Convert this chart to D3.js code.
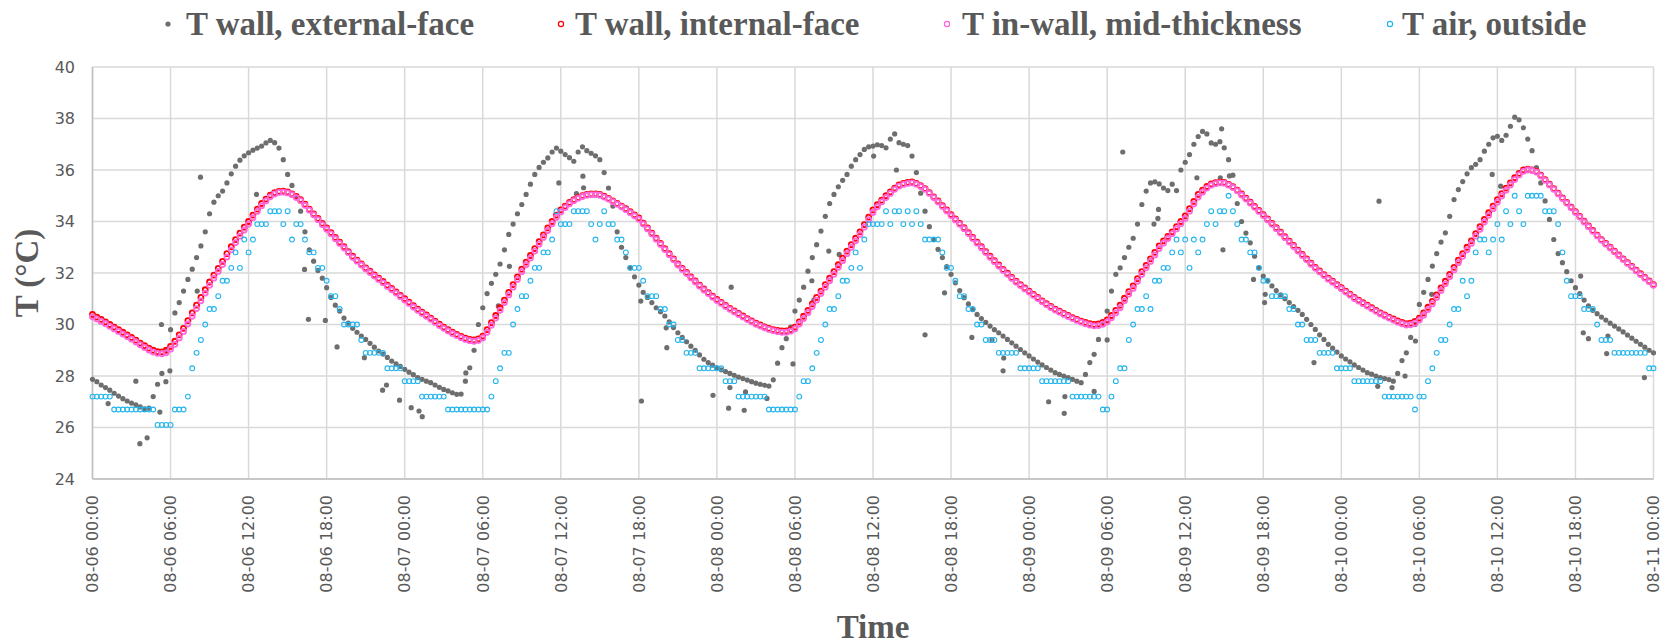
<!DOCTYPE html>
<html><head><meta charset="utf-8">
<script src="https://cdn.jsdelivr.net/npm/d3@7"></script>
<style>html,body{margin:0;padding:0;background:#fff;} svg{display:block;}</style>
</head><body><svg id="chart" width="1670" height="644"></svg>
<script>
// ---------- DATA ----------
const seriesNames = ["T wall, external-face", "T wall, internal-face", "T in-wall, mid-thickness", "T air, outside"];
const startTime = new Date(2020, 7, 6, 0, 0);
const endTime = new Date(2020, 7, 11, 0, 0);
const stepMinutes = 20; // sampling interval of the arrays below
const yTicks = [24, 26, 28, 30, 32, 34, 36, 38, 40];

const tExternal = [
27.87,27.78,27.65, 27.55,27.45,27.33, 27.22,27.12,27.03, 26.95,26.88,26.8, 26.72,26.75,27.2, 27.68,28.1,29.0,
29.8,30.45,30.85, 31.3,31.75,32.15, 32.6,33.05,33.6, 34.3,34.75,35.0, 35.18,35.5,35.85, 36.15,36.38,36.55,
36.67,36.77,36.85, 36.93,37.05,37.15, 37.06,36.85,36.4, 35.83,35.4,34.95, 34.4,33.6,32.9, 32.46,32.1,31.8,
31.43,31.05,30.75, 30.52,30.25,30.05, 29.85,29.7,29.55, 29.42,29.27,29.12, 28.97,28.85,28.72, 28.58,28.47,28.37,
28.26,28.15,28.05, 27.94,27.87,27.8, 27.74,27.65,27.56, 27.48,27.42,27.35, 27.29,27.3,27.8, 28.32,29.0,30.0,
30.65,31.2,31.6, 31.95,32.35,32.9, 33.5,33.9,34.3, 34.66,35.05,35.45, 35.83,36.1,36.3, 36.47,36.7,36.85,
36.73,36.6,36.48, 36.34,36.7,36.9, 36.75,36.65,36.55, 36.4,35.9,35.3, 34.6,33.6,33.0, 32.6,32.2,31.85,
31.53,31.25,31.05, 30.85,30.65,30.5, 30.33,30.1,29.88, 29.68,29.5,29.33, 29.16,29.0,28.82, 28.65,28.52,28.42,
28.32,28.24,28.17, 28.1,28.03,27.96, 27.9,27.84,27.78, 27.72,27.68,27.64, 27.61,27.85,28.5, 29.1,29.45,29.9,
30.52,30.95,31.45, 32.07,32.6,33.1, 33.63,34.2,34.7, 35.05,35.35,35.6, 35.83,36.15,36.4, 36.6,36.8,36.9,
36.93,36.98,36.95, 36.86,37.2,37.4, 37.06,37.0,36.95, 36.54,35.9,35.1, 34.4,33.8,33.3, 32.92,32.6,32.25,
31.95,31.62,31.32, 31.04,30.8,30.58, 30.39,30.23,30.08, 29.94,29.8,29.68, 29.55,29.42,29.29, 29.16,29.03,28.9,
28.78,28.66,28.54, 28.43,28.33,28.23, 28.13,28.06,28.0, 27.94,27.87,27.8, 27.74,28.06,28.52, 28.84,29.42,30.07,
30.52,31.3,31.95, 32.2,32.6,33.0, 33.35,33.9,34.66, 35.18,35.5,35.54, 35.46,35.3,35.2, 35.45,35.2,36.0,
36.3,36.6,37.0, 37.3,37.5,37.4, 37.05,37.0,37.1, 36.86,36.4,35.8, 34.7,34.0,33.55, 33.17,32.65,32.2,
31.88,31.7,31.5, 31.32,31.15,31.0, 30.85,30.7,30.55, 30.39,30.2,30.0, 29.81,29.6,29.42, 29.23,29.08,28.93,
28.78,28.66,28.55, 28.43,28.33,28.23, 28.13,28.07,28.0, 27.94,27.9,27.86, 27.8,28.1,28.6, 28.9,29.5,30.0,
30.78,31.25,31.75, 32.27,32.75,33.2, 33.56,34.2,34.85, 35.24,35.55,35.85, 36.09,36.22,36.4, 36.73,37.0,37.25,
37.31,37.15,37.35, 37.7,38.05,37.95, 37.64,37.2,36.75, 36.09,35.5,34.8, 34.08,33.3,32.75, 32.4,32.05,31.7,
31.43,31.2,30.95, 30.72,30.55,30.42, 30.29,30.17,30.05, 29.94,29.83,29.71, 29.59,29.47,29.35, 29.23,29.12,29.0,
28.9];

// scattered readings of the external face that fall off the main trace (time in hours from start)
const extraExternalHours = [1.2,3.33,3.64,4.2,5.18,5.3,5.64,5.95,8.05,8.3,12.6,16.3,16.6,17.9,18.8,20.9,22.3,22.6,23.6,24.5,
25.1,25.35,28.7,31.2,32.05,35.85,37.2,37.7,37.75,42.15,42.2,44.1,44.15,47.7,48.9,49.0,49.1,50.1,50.2,51.85,
53.85,55.3,55.45,56.6,57.4,60.05,61.8,64.0,65.5,67.6,69.15,70.0,70.05,73.5,74.7,74.75,77.0,78.0,79.2,81.6,
81.9,81.95,84.9,86.7,86.8,86.9,87.4,89.25,90.1,90.15,93.9,98.8,98.9,99.9,100.9,101.7,102.95,107.6,108.25,114.4,
114.6,115.0,116.4,116.5,119.3];
const extraExternalValues = [26.93,27.8,25.37,25.6,26.6,30.0,27.78,28.2,31.3,35.72,35.05,32.14,30.2,30.16,29.13,28.71,27.45,27.65,27.06,26.77,
26.64,26.42,28.12,30.72,32.26,35.5,35.08,35.76,35.31,30.91,27.03,29.87,29.1,27.25,26.75,27.55,31.45,26.67,27.38,27.13,
28.47,31.7,30.95,32.85,32.72,36.54,36.0,29.6,31.23,29.5,29.4,28.2,28.7,27.0,26.55,27.2,27.4,29.4,36.7,33.9,
34.12,34.47,35.7,35.7,37.6,32.9,35.77,31.75,30.85,31.17,28.52,27.6,34.79,27.55,28.0,29.36,31.17,35.83,35.37,31.88,
29.68,29.45,28.87,29.55,27.94];

const tInternal = [
30.39,30.29,30.2, 30.1,30.0,29.9, 29.8,29.7,29.6, 29.5,29.39,29.28, 29.18,29.08,29.0, 28.95,28.94,29.0,
29.15,29.35,29.6, 29.85,30.15,30.45, 30.75,31.05,31.35, 31.65,31.92,32.18, 32.45,32.75,33.02, 33.3,33.55,33.78,
34.0,34.25,34.48, 34.7,34.87,35.02, 35.12,35.17,35.18, 35.15,35.07,34.97, 34.85,34.67,34.48, 34.3,34.12,33.93,
33.75,33.57,33.38, 33.2,33.02,32.83, 32.65,32.5,32.35, 32.2,32.07,31.93, 31.8,31.67,31.53, 31.4,31.27,31.13,
31.0,30.87,30.73, 30.6,30.48,30.37, 30.25,30.13,30.01, 29.9,29.8,29.7, 29.62,29.54,29.47, 29.42,29.4,29.44,
29.55,29.8,30.07, 30.35,30.65,30.95, 31.25,31.55,31.85, 32.15,32.42,32.68, 32.95,33.22,33.48, 33.75,34.0,34.25,
34.45,34.6,34.74, 34.85,34.93,35.0, 35.05,35.07,35.07, 35.05,34.98,34.9, 34.8,34.7,34.6, 34.5,34.38,34.26,
34.14,33.94,33.75, 33.55,33.35,33.15, 32.95,32.75,32.55, 32.35,32.18,32.02, 31.85,31.69,31.53, 31.38,31.24,31.1,
30.97,30.86,30.74, 30.63,30.53,30.43, 30.33,30.23,30.14, 30.05,29.98,29.91, 29.85,29.8,29.77, 29.75,29.75,29.8,
29.9,30.1,30.32, 30.55,30.8,31.05, 31.3,31.55,31.8, 32.05,32.32,32.58, 32.85,33.1,33.35, 33.6,33.88,34.17,
34.45,34.65,34.83, 35.0,35.15,35.3, 35.42,35.48,35.52, 35.54,35.48,35.39, 35.28,35.12,34.96, 34.8,34.62,34.45,
34.27,34.1,33.93, 33.76,33.57,33.38, 33.2,33.02,32.83, 32.65,32.48,32.31, 32.14,31.99,31.83, 31.68,31.55,31.42,
31.3,31.17,31.05, 30.92,30.81,30.7, 30.6,30.52,30.43, 30.35,30.27,30.2, 30.13,30.08,30.03, 30.0,30.02,30.08,
30.18,30.35,30.55, 30.75,31.02,31.28, 31.5,31.78,32.05, 32.3,32.55,32.8, 33.05,33.25,33.42, 33.6,33.8,34.0,
34.22,34.5,34.78, 35.05,35.22,35.36, 35.46,35.51,35.53, 35.52,35.44,35.35, 35.22,35.07,34.91, 34.75,34.59,34.43,
34.27,34.1,33.93, 33.76,33.59,33.41, 33.24,33.07,32.89, 32.72,32.55,32.38, 32.22,32.08,31.94, 31.8,31.68,31.55,
31.43,31.3,31.18, 31.05,30.95,30.85, 30.75,30.65,30.55, 30.45,30.37,30.29, 30.22,30.14,30.08, 30.03,30.05,30.12,
30.25,30.45,30.67, 30.9,31.15,31.42, 31.68,31.95,32.22, 32.5,32.75,33.0, 33.25,33.53,33.8, 34.08,34.34,34.6,
34.85,35.08,35.3, 35.5,35.7,35.87, 36.0,36.03,36.0, 35.95,35.8,35.63, 35.45,35.28,35.1, 34.92,34.74,34.56,
34.38,34.2,34.01, 33.83,33.65,33.47, 33.3,33.15,33.0, 32.85,32.7,32.55, 32.4,32.26,32.11, 31.97,31.83,31.69,
31.55];

const tMid = [
30.3,30.21,30.12, 30.03,29.93,29.83, 29.73,29.63,29.53, 29.43,29.32,29.21, 29.11,29.01,28.93, 28.88,28.86,28.9,
29.04,29.23,29.48, 29.73,30.02,30.32, 30.62,30.92,31.22, 31.52,31.8,32.06, 32.33,32.62,32.9, 33.18,33.43,33.67,
33.9,34.15,34.39, 34.61,34.8,34.96, 35.07,35.13,35.14, 35.11,35.04,34.93, 34.81,34.63,34.44, 34.26,34.07,33.88,
33.7,33.52,33.33, 33.15,32.97,32.79, 32.61,32.46,32.31, 32.16,32.02,31.88, 31.75,31.62,31.48, 31.35,31.22,31.08,
30.95,30.82,30.68, 30.55,30.43,30.32, 30.2,30.08,29.96, 29.85,29.75,29.65, 29.57,29.49,29.42, 29.37,29.35,29.38,
29.48,29.7,29.97, 30.25,30.55,30.85, 31.15,31.45,31.75, 32.05,32.32,32.58, 32.85,33.12,33.38, 33.65,33.91,34.16,
34.37,34.54,34.69, 34.81,34.9,34.97, 35.02,35.04,35.04, 35.02,34.95,34.87, 34.77,34.67,34.57, 34.46,34.34,34.22,
34.09,33.9,33.71, 33.51,33.31,33.11, 32.91,32.71,32.51, 32.31,32.14,31.98, 31.81,31.65,31.49, 31.34,31.2,31.06,
30.93,30.82,30.7, 30.59,30.49,30.39, 30.29,30.19,30.1, 30.01,29.94,29.87, 29.81,29.76,29.72, 29.7,29.7,29.74,
29.83,30.02,30.23, 30.46,30.7,30.95, 31.2,31.45,31.7, 31.95,32.22,32.48, 32.75,33.0,33.25, 33.5,33.78,34.07,
34.35,34.57,34.76, 34.93,35.09,35.25, 35.37,35.44,35.48, 35.5,35.45,35.36, 35.25,35.09,34.93, 34.76,34.58,34.41,
34.23,34.06,33.89, 33.72,33.53,33.34, 33.16,32.98,32.79, 32.61,32.44,32.27, 32.1,31.95,31.79, 31.64,31.51,31.38,
31.26,31.13,31.01, 30.88,30.77,30.66, 30.56,30.48,30.39, 30.31,30.23,30.16, 30.09,30.03,29.98, 29.95,29.96,30.01,
30.1,30.26,30.45, 30.65,30.92,31.18, 31.4,31.68,31.95, 32.2,32.45,32.7, 32.95,33.16,33.34, 33.52,33.71,33.91,
34.12,34.4,34.68, 34.95,35.14,35.3, 35.41,35.47,35.5, 35.49,35.41,35.32, 35.19,35.03,34.87, 34.71,34.55,34.39,
34.23,34.06,33.89, 33.72,33.55,33.37, 33.2,33.03,32.85, 32.68,32.51,32.34, 32.18,32.04,31.9, 31.76,31.64,31.51,
31.39,31.26,31.14, 31.01,30.91,30.81, 30.71,30.61,30.51, 30.41,30.33,30.25, 30.17,30.09,30.03, 29.98,29.99,30.05,
30.17,30.36,30.58, 30.8,31.05,31.32, 31.58,31.85,32.12, 32.4,32.65,32.9, 33.15,33.43,33.7, 33.98,34.24,34.5,
34.75,34.99,35.21, 35.42,35.63,35.81, 35.95,36.0,35.98, 35.92,35.77,35.6, 35.42,35.25,35.07, 34.89,34.71,34.53,
34.35,34.17,33.98, 33.8,33.62,33.44, 33.27,33.12,32.97, 32.82,32.67,32.52, 32.37,32.23,32.08, 31.94,31.8,31.66,
31.52];

const tAirOutside = [
27.2,27.2,27.2, 27.2,27.2,26.7, 26.7,26.7,26.7, 26.7,26.7,26.7, 26.7,26.7,26.7, 26.1,26.1,26.1,
26.1,26.7,26.7, 26.7,27.2,28.3, 28.9,29.4,30.0, 30.6,30.6,31.1, 31.7,31.7,32.2, 32.8,32.2,33.3,
32.8,33.3,33.9, 33.9,33.9,34.4, 34.4,34.4,33.9, 34.4,33.3,33.9, 33.9,33.3,32.8, 32.8,32.2,32.2,
31.7,31.1,31.1, 30.6,30.0,30.0, 30.0,30.0,29.4, 28.9,28.9,28.9, 28.9,28.9,28.3, 28.3,28.3,28.3,
27.8,27.8,27.8, 27.8,27.2,27.2, 27.2,27.2,27.2, 27.2,26.7,26.7, 26.7,26.7,26.7, 26.7,26.7,26.7,
26.7,26.7,27.2, 27.8,28.3,28.9, 28.9,30.0,30.6, 31.1,31.1,31.7, 32.2,32.2,32.8, 32.8,33.3,34.4,
33.9,33.9,33.9, 34.4,34.4,34.4, 34.4,33.9,33.3, 33.9,34.4,33.9, 33.9,33.3,33.3, 32.8,32.2,32.2,
32.2,31.7,31.1, 31.1,31.1,30.6, 30.6,30.0,30.0, 29.4,29.4,28.9, 28.9,28.9,28.3, 28.3,28.3,28.3,
28.3,28.3,27.8, 27.8,27.8,27.2, 27.2,27.2,27.2, 27.2,27.2,27.2, 26.7,26.7,26.7, 26.7,26.7,26.7,
26.7,27.2,27.8, 27.8,28.3,28.9, 29.4,30.0,30.6, 30.6,31.1,31.7, 31.7,32.2,32.8, 32.2,33.3,33.9,
33.9,33.9,33.9, 34.4,33.9,34.4, 34.4,33.9,34.4, 33.9,34.4,33.9, 33.3,33.3,33.3, 33.3,32.8,32.2,
32.2,31.7,31.1, 31.1,30.6,30.6, 30.0,30.0,29.4, 29.4,29.4,28.9, 28.9,28.9,28.9, 28.9,28.3,28.3,
28.3,28.3,28.3, 27.8,27.8,27.8, 27.8,27.8,27.8, 27.8,27.2,27.2, 27.2,27.2,27.2, 27.2,27.2,26.7,
26.7,27.2,27.8, 28.3,28.3,29.4, 30.0,30.6,30.6, 31.1,30.6,31.7, 31.7,32.2,32.2, 32.8,33.3,32.8,
33.3,32.2,33.3, 32.8,33.3,33.9, 34.4,33.9,34.4, 34.4,35.0,34.4, 33.9,33.3,33.3, 32.8,32.8,32.2,
31.7,31.7,31.1, 31.1,31.1,31.1, 30.6,30.6,30.0, 30.0,29.4,29.4, 29.4,28.9,28.9, 28.9,28.9,28.3,
28.3,28.3,28.3, 27.8,27.8,27.8, 27.8,27.8,27.8, 27.8,27.2,27.2, 27.2,27.2,27.2, 27.2,27.2,26.7,
27.2,27.2,27.8, 28.3,28.9,29.4, 29.4,30.0,30.6, 30.6,31.7,31.1, 31.7,32.8,33.3, 33.3,32.8,33.3,
33.9,33.3,34.4, 33.9,35.0,34.4, 33.9,35.0,35.0, 35.0,35.0,34.4, 34.4,34.4,33.9, 32.8,31.7,31.1,
31.1,31.1,30.6, 30.6,30.6,30.0, 29.4,29.4,29.4, 28.9,28.9,28.9, 28.9,28.9,28.9, 28.9,28.9,28.3,
28.3];

// ---------- CHART ----------
const W = 1670, H = 644;
const plot = {left: 92.5, right: 1653.5, top: 67, bottom: 479};
const svg = d3.select('#chart');
svg.append('rect').attr('width', W).attr('height', H).attr('fill', '#fff');

const x = d3.scaleTime().domain([startTime, endTime]).range([plot.left, plot.right]);
const y = d3.scaleLinear().domain([24, 40]).range([plot.bottom, plot.top]);
const timeAt = i => new Date(startTime.getTime() + i * stepMinutes * 60000);
const hourToTime = h => new Date(startTime.getTime() + h * 3600000);
const xTicks = d3.timeHour.every(6).range(startTime, new Date(endTime.getTime() + 1));
const fmt = d3.timeFormat('%m-%d %H:%M');

const gridColor = '#d9d9d9';
svg.append('g').selectAll('line').data(yTicks).join('line')
  .attr('x1', plot.left).attr('x2', plot.right)
  .attr('y1', d => y(d)).attr('y2', d => y(d))
  .attr('stroke', gridColor).attr('stroke-width', 1.5);
svg.append('g').selectAll('line').data(xTicks).join('line')
  .attr('x1', d => x(d)).attr('x2', d => x(d))
  .attr('y1', plot.top).attr('y2', plot.bottom)
  .attr('stroke', gridColor).attr('stroke-width', 1.5);
svg.append('line').attr('x1', plot.left).attr('x2', plot.left).attr('y1', plot.top).attr('y2', plot.bottom)
  .attr('stroke', '#bfbfbf').attr('stroke-width', 1.5);
svg.append('line').attr('x1', plot.left).attr('x2', plot.right).attr('y1', plot.bottom).attr('y2', plot.bottom)
  .attr('stroke', '#bfbfbf').attr('stroke-width', 1.5);

svg.append('g').selectAll('text').data(yTicks).join('text')
  .attr('x', 75).attr('y', d => y(d)).attr('dy', '0.35em')
  .attr('text-anchor', 'end')
  .attr('font-family', 'DejaVu Sans').attr('font-size', 16).attr('fill', '#595959')
  .text(d => d);
svg.append('g').selectAll('text').data(xTicks).join('text')
  .attr('transform', d => `translate(${x(d)},495) rotate(-90)`)
  .attr('dy', '0.36em').attr('text-anchor', 'end')
  .attr('font-family', 'DejaVu Sans').attr('font-size', 16).attr('fill', '#595959')
  .text(d => fmt(d));

svg.append('text').attr('transform', `translate(38,${(plot.top + plot.bottom) / 2}) rotate(-90)`)
  .attr('text-anchor', 'middle')
  .attr('font-family', 'Liberation Serif').attr('font-weight', 'bold').attr('font-size', 33).attr('fill', '#595959')
  .text('T (°C)');
svg.append('text').attr('x', (plot.left + plot.right) / 2).attr('y', 638)
  .attr('text-anchor', 'middle')
  .attr('font-family', 'Liberation Serif').attr('font-weight', 'bold').attr('font-size', 33).attr('fill', '#595959')
  .text('Time');

// series
const colExt = '#6e6e6e', colInt = '#ff0000', colMid = '#ff66dd', colAir = '#22b5ee';
const gData = svg.append('g');
const extPts = tExternal.map((v, i) => ({t: timeAt(i), v}))
  .concat(extraExternalHours.map((h, i) => ({t: hourToTime(h), v: extraExternalValues[i]})));
gData.append('g').selectAll('circle').data(extPts).join('circle')
  .attr('cx', d => x(d.t)).attr('cy', d => y(d.v)).attr('r', 2.6).attr('fill', colExt);
function rings(arr, color, r, sw) {
  gData.append('g').selectAll('circle').data(arr).join('circle')
    .attr('cx', (d, i) => x(timeAt(i))).attr('cy', d => y(d)).attr('r', r)
    .attr('fill', 'none').attr('stroke', color).attr('stroke-width', sw);
}
rings(tInternal, colInt, 2.5, 1.8);
rings(tMid, colMid, 2.5, 1.8);
rings(tAirOutside, colAir, 2.4, 1.1);

// legend
const legendItems = [
  {name: seriesNames[0], mx: 168, tx: 186, type: 'dot', color: colExt},
  {name: seriesNames[1], mx: 561, tx: 575, type: 'ring', color: colInt},
  {name: seriesNames[2], mx: 947, tx: 962, type: 'ring', color: colMid},
  {name: seriesNames[3], mx: 1390, tx: 1402, type: 'ring', color: colAir}
];
const lg = svg.append('g');
legendItems.forEach(it => {
  if (it.type === 'dot') lg.append('circle').attr('cx', it.mx).attr('cy', 24).attr('r', 2.6).attr('fill', it.color);
  else lg.append('circle').attr('cx', it.mx).attr('cy', 24).attr('r', 2.6).attr('fill', 'none').attr('stroke', it.color).attr('stroke-width', 1.2);
  lg.append('text').attr('x', it.tx).attr('y', 35)
    .attr('font-family', 'Liberation Serif').attr('font-weight', 'bold').attr('font-size', 33).attr('fill', '#595959')
    .text(it.name);
});
</script>
</body></html>
